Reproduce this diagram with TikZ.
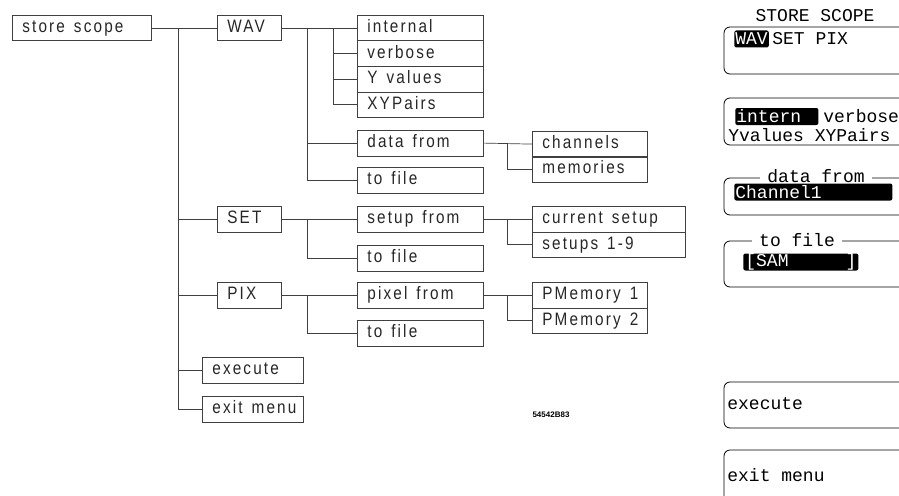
\documentclass[tikz,border=0pt]{standalone}
\usepackage{fontspec}
\setmainfont{Liberation Sans}
\newfontfamily\plotfont[LetterSpace=12,FakeStretch=0.85]{Liberation Sans}
\newfontfamily\screenfont{Liberation Mono}
\newcommand\plotgap{\nobreak\hskip 9pt\relax}
\begin{document}
\begin{tikzpicture}[x=1pt,y=-1pt,line width=0.7pt,
  box/.style={draw=black!75,anchor=north west,inner xsep=10pt,inner ysep=0pt,text width=#1,
    minimum height=25.5pt,text height=12.5pt,text depth=3.5pt,
    font=\plotfont\fontsize{18}{20}\selectfont,text=black!85},
  box/.default=106pt,
  scr/.style={font=\screenfont\fontsize{18}{20}\selectfont,inner sep=0pt},
  hil/.style={fill=black,text=white,rounded corners=2pt,anchor=west,inner xsep=1pt,minimum height=17pt},
  panel/.style={draw,rounded corners=6pt,line width=0.8pt}]
\useasboundingbox (0,0) rectangle (899,495);
\clip (0,0) rectangle (899,495);
% menu tree
\node[box=119pt] (store) at (12,15) {store\plotgap scope};
\node[box=44pt] (wav) at (217,15) {WAV};
\node[box] (intern) at (357,15) {internal};
\node[box] (verb) at (357,40.5) {verbose};
\node[box] (yval) at (357,66) {Y\plotgap values};
\node[box] (xyp) at (357,91.5) {XYPairs};
\node[box] (wdata) at (357,130) {data\plotgap from};
\node[box] (wfile) at (357,167) {to\plotgap file};
\node[box=95pt] (chan) at (532,131) {channels};
\node[box=95pt] (mem) at (532,156) {memories};
\node[box=44pt] (set) at (217,206) {SET};
\node[box] (sfrom) at (357,206) {setup\plotgap from};
\node[box] (sfile) at (357,245) {to\plotgap file};
\node[box=133pt] (cur) at (532,206) {current\plotgap setup};
\node[box=133pt] (sups) at (532,231.5) {setups\plotgap 1-9};
\node[box=44pt] (pix) at (217,282) {PIX};
\node[box] (pfrom) at (357,282) {pixel\plotgap from};
\node[box] (pfile) at (357,320) {to\plotgap file};
\node[box=95pt] (pm1) at (532,282) {PMemory\plotgap 1};
\node[box=95pt] (pm2) at (532,307.5) {PMemory\plotgap 2};
\node[box=81pt] (exec) at (202,357) {execute};
\node[box=81pt] (exit) at (202,396) {exit\plotgap menu};
\node[font=\bfseries\fontsize{8}{9}\selectfont] (code) at (551,415) {54542B83};
% junctions
\coordinate (jt) at ([xshift=27pt]store.east);
\coordinate (jw) at ([xshift=26pt]wav.east);
\coordinate (ji) at ([xshift=52pt]wav.east);
\coordinate (jd) at ([xshift=24pt]wdata.east);
\coordinate (js) at ([xshift=26pt]set.east);
\coordinate (jc) at ([xshift=24pt]sfrom.east);
\coordinate (jp) at ([xshift=26pt]pix.east);
\coordinate (jm) at ([xshift=24pt]pfrom.east);
\begin{scope}[draw=black!75]
\draw (store.east) -- (wav.west);
\draw (jt) |- (set.west);
\draw (jt) |- (pix.west);
\draw (jt) |- (exec.west);
\draw (jt) |- (exit.west);
\draw (wav.east) -- (intern.west);
\draw (ji) |- (verb.west);
\draw (ji) |- (yval.west);
\draw (ji) |- (xyp.west);
\draw (jw) |- (wdata.west);
\draw (jw) |- (wfile.west);
\draw (wdata.east) -- (chan.west);
\draw (jd) |- (mem.west);
\draw (set.east) -- (sfrom.west);
\draw (js) |- (sfile.west);
\draw (sfrom.east) -- (cur.west);
\draw (jc) |- (sups.west);
\draw (pix.east) -- (pfrom.west);
\draw (jp) |- (pfile.west);
\draw (pfrom.east) -- (pm1.west);
\draw (jm) |- (pm2.west);
\end{scope}
% screen menu
\node[scr] (title) at (815,16) {STORE SCOPE};
\draw[panel] (724,27) rectangle (940,74);
\node[scr,hil] (wavhl) at (734,39) {WAV};
\node[scr,anchor=west] (setpix) at (772,39) {SET PIX};
\draw[panel] (724,98) rectangle (940,145);
\node[scr,hil,text width=81pt] (inhl) at (735,116.5) {intern};
\node[scr,anchor=west] (verbs) at (823,116.5) {verbose};
\node[scr,anchor=west] (yxs) at (728,135) {Yvalues XYPairs};
\draw[panel] (724,178) rectangle (940,215);
\node[scr,fill=white,inner xsep=7pt] (dftitle) at (816,176) {data from};
\node[scr,hil,text width=156pt] (chhl) at (734,192) {Channel1};
\draw[panel] (724,241) rectangle (940,287);
\node[scr,fill=white,inner xsep=7pt] (tftitle) at (797,240) {to file};
\node[scr,hil,text width=111pt,inner xsep=2pt] (samhl) at (743,262) {[SAM\hfill]};
\draw[panel] (724,382) rectangle (940,428);
\node[scr,anchor=west] (execs) at (727,404) {execute};
\draw[panel] (724,450) rectangle (940,530);
\node[scr,anchor=west] (exits) at (727,475) {exit menu};
\end{tikzpicture}
\end{document}
